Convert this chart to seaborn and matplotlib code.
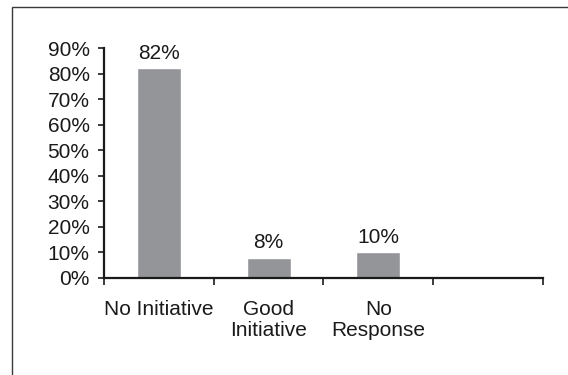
import matplotlib
matplotlib.use("Agg")
import matplotlib.pyplot as plt
import matplotlib.patches as mpatches
from matplotlib.ticker import FixedLocator, FuncFormatter
import seaborn as sns
import pandas as pd

# Survey responses (share of respondents)
categories = ["No Initiative", "Good\nInitiative", "No\nResponse"]
shares = [0.82, 0.08, 0.10]
value_labels = ["82%", "8%", "10%"]
y_ticks = [0.0, 0.1, 0.2, 0.3, 0.4, 0.5, 0.6, 0.7, 0.8, 0.9]

sns.set_theme(style="white")
plt.rcParams["font.family"] = ["Liberation Sans", "DejaVu Sans"]

df = pd.DataFrame({"category": categories, "share": shares})

fig = plt.figure(figsize=(5.68, 3.75), dpi=100)
ax = fig.add_axes([0.183, 0.2587, 0.773, 0.6133])

sns.barplot(data=df, x="category", y="share", order=categories,
            color="#939598", saturation=1, width=0.4, ax=ax)

ax.set_xlim(-0.5, 3.5)
ax.set_ylim(0, 0.9)
ax.set_xlabel("")
ax.set_ylabel("")

# y axis: percentage ticks
ax.yaxis.set_major_locator(FixedLocator(y_ticks))
ax.yaxis.set_major_formatter(FuncFormatter(lambda v, _: f"{v * 100:.0f}%"))
ax.tick_params(axis="y", which="major", left=True, length=4.3, width=1.2,
               color="#1a1a1a", pad=6.0, labelsize=15, labelcolor="#1a1a1a")

# x axis: labels centred in slots, tick marks on slot boundaries
ax.set_xticks(range(len(categories)))
ax.set_xticklabels(categories, linespacing=1.15)
ax.set_xticks([-0.5, 0.5, 1.5, 2.5, 3.5], minor=True)
ax.tick_params(axis="x", which="major", bottom=False, length=0, pad=15.5,
               labelsize=15, labelcolor="#1a1a1a")
ax.tick_params(axis="x", which="minor", bottom=True, length=5, width=1.2,
               color="#1a1a1a")

for side in ["top", "right"]:
    ax.spines[side].set_visible(False)
for side in ["left", "bottom"]:
    ax.spines[side].set_color("#1a1a1a")
    ax.spines[side].set_linewidth(1.6)

ax.bar_label(ax.containers[0], labels=value_labels, padding=4,
             fontsize=15, color="#1a1a1a")

# outer frame around the chart
frame = mpatches.Rectangle((12 / 568, -0.1), 1.2, 1 - 7 / 375 + 0.1,
                           transform=fig.transFigure, fill=False,
                           edgecolor="#3a3a3a", linewidth=1.0)
fig.patches.append(frame)

fig.savefig("out.png", dpi=100)
